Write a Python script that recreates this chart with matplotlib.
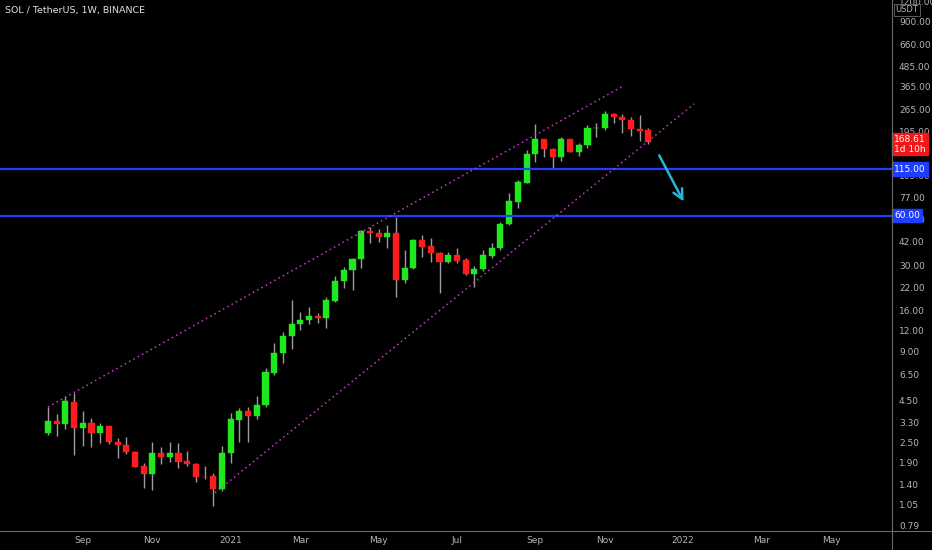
import numpy as np
import matplotlib
matplotlib.use('Agg')
import matplotlib.pyplot as plt
import matplotlib.dates as mdates
from matplotlib.lines import Line2D
from datetime import datetime, timedelta

# --- données (SOL/USDT hebdo) ---
debut = datetime(2020, 8, 10)
ouverture = [2.85, 3.39, 3.26, 4.40, 3.08, 3.26, 2.87, 3.16, 2.53, 2.41,
             2.20, 1.79, 1.61, 2.16, 2.04, 2.17, 1.94, 1.86, 1.55, 1.57,
             1.30, 2.17, 3.43, 3.86, 3.65, 4.24, 6.66, 8.73, 11.13, 13.15,
             13.91, 14.57, 14.25, 18.23, 24.0, 28.0, 32.5, 47.8, 46.8, 44.6,
             46.8, 24.3, 28.7, 42.2, 38.8, 35.4, 31.5, 34.5, 31.9, 26.5,
             28.4, 34.2, 37.9, 53.3, 72.8, 95.0, 141.9, 174.2, 151.5, 135.5,
             174.2, 146.5, 160.9, 203.2, 204.0, 248.2, 237.1, 228.3, 200.4, 196.6]
haut = [4.14, 3.72, 4.80, 5.00, 3.89, 3.55, 3.31, 3.18, 2.66, 2.70,
        2.22, 1.87, 2.51, 2.34, 2.51, 2.48, 2.24, 1.88, 1.80, 1.63,
        2.39, 3.80, 4.04, 4.14, 4.80, 7.08, 10.04, 11.81, 18.4, 15.56,
        16.62, 15.4, 19.27, 25.75, 29.3, 33.0, 49.0, 50.9, 49.5, 52.5,
        58.5, 37.0, 43.0, 45.7, 43.6, 35.8, 36.0, 37.9, 33.0, 29.7,
        37.0, 40.7, 55.0, 81.9, 98.6, 150.0, 216.0, 176.0, 155.0, 179.2,
        176.0, 166.2, 212.8, 219.8, 260.0, 252.0, 248.0, 237.0, 244.8, 203.0]
bas = [2.80, 2.76, 3.01, 2.10, 2.40, 2.36, 2.48, 2.44, 2.03, 2.13,
       1.77, 1.32, 1.29, 1.85, 1.90, 1.76, 1.80, 1.45, 1.50, 1.03,
       1.27, 1.87, 2.54, 2.54, 3.47, 4.10, 6.45, 7.59, 9.23, 12.09,
       13.2, 13.29, 12.39, 17.9, 21.7, 21.2, 28.7, 41.0, 41.5, 37.9,
       19.3, 23.5, 28.2, 33.7, 31.5, 20.2, 30.9, 30.8, 26.0, 22.2,
       27.5, 33.0, 37.0, 52.5, 66.4, 94.0, 127.4, 135.5, 116.2, 129.2,
       145.0, 138.0, 155.0, 179.2, 198.6, 217.9, 189.6, 182.4, 170.9, 163.2]
cloture = [3.39, 3.26, 4.44, 3.08, 3.26, 2.87, 3.16, 2.53, 2.41, 2.20,
           1.79, 1.61, 2.16, 2.04, 2.16, 1.92, 1.86, 1.55, 1.54, 1.30,
           2.17, 3.47, 3.86, 3.65, 4.24, 6.66, 8.73, 11.13, 13.15, 13.91,
           14.57, 14.25, 18.23, 24.0, 28.0, 32.5, 47.8, 46.8, 44.6, 46.8,
           24.3, 28.7, 42.2, 38.8, 35.4, 31.5, 34.5, 31.9, 26.5, 28.4,
           34.2, 37.9, 53.3, 72.8, 95.0, 141.9, 174.2, 151.5, 135.5, 174.2,
           146.5, 160.9, 203.2, 204.0, 248.2, 237.1, 228.3, 200.4, 196.6, 168.61]

niveaux = [115.0, 60.0]
# canal (semaine, prix)
canal_haut = [(0.0, 4.12), (66.1, 367.0)]
canal_bas = [(19.2, 1.24), (74.25, 286.0)]
fleche = [(70.1, 144.0), (73.2, 70.5)]

ticks_prix = [1200, 900, 660, 485, 365, 265, 195, 105, 77, 57, 42, 30, 22, 16,
              12, 9, 6.5, 4.5, 3.3, 2.5, 1.9, 1.4, 1.05, 0.79]
ticks_dates = [datetime(2020, 9, 7), datetime(2020, 11, 2), datetime(2021, 1, 4),
               datetime(2021, 3, 1), datetime(2021, 5, 3), datetime(2021, 7, 5),
               datetime(2021, 9, 6), datetime(2021, 11, 1), datetime(2022, 1, 3),
               datetime(2022, 3, 7), datetime(2022, 5, 2)]
ticks_noms = ['Sep', 'Nov', '2021', 'Mar', 'May', 'Jul', 'Sep', 'Nov', '2022', 'Mar', 'May']

VERT = '#1fe81f'
ROUGE = '#ff1c1c'
GRIS_TXT = '#b2b5be'
BLEU = '#1f3dff'


def semaine(w):
    return mdates.date2num(debut) + 7.0 * w


fig = plt.figure(figsize=(9.32, 5.5), dpi=100, facecolor='black')
ax = fig.add_axes([0, 19 / 550, 892 / 932, 531 / 550], facecolor='black')
ax.set_yscale('log')

x = np.array([semaine(i) for i in range(len(cloture))])
o = np.array(ouverture)
c = np.array(cloture)
h = np.array(haut)
l = np.array(bas)
couleurs = [VERT if cc >= oo else ROUGE for oo, cc in zip(o, c)]

ax.vlines(x, l, h, color='#9c9c9c', linewidth=1, zorder=2)
bas_corps = np.minimum(o, c)
haut_corps = np.maximum(o, c) * 1.004
ax.bar(x, haut_corps - bas_corps, bottom=bas_corps, width=4.9, color=couleurs,
       edgecolor=couleurs, linewidth=0.3, zorder=3)

# niveaux horizontaux
for niv in niveaux:
    ax.axhline(niv, color=BLEU, linewidth=1.6, zorder=4)

# canal en pointillés
for seg in (canal_haut, canal_bas):
    ax.plot([semaine(seg[0][0]), semaine(seg[1][0])], [seg[0][1], seg[1][1]],
            color='#cc3ccc', linewidth=1.1, linestyle=(0, (1, 2.2)), zorder=4)

# flèche
ax.annotate('', xy=(semaine(fleche[1][0]), fleche[1][1]),
            xytext=(semaine(fleche[0][0]), fleche[0][1]),
            arrowprops=dict(arrowstyle='->,head_length=0.7,head_width=0.35',
                            color='#27b4d6', linewidth=1.8), zorder=5)

ax.set_xlim(semaine(-38.6 / 7), semaine(679 / 7))
ax.set_ylim(0.727, 1223)

ax.yaxis.tick_right()
ax.set_yticks(ticks_prix)
ax.set_yticklabels([f'{t:.2f}' for t in ticks_prix])
ax.yaxis.set_minor_locator(matplotlib.ticker.NullLocator())
ax.tick_params(axis='y', length=0, pad=5, labelsize=6.5, labelcolor=GRIS_TXT)
ax.set_xticks([mdates.date2num(d) for d in ticks_dates])
ax.set_xticklabels(ticks_noms)
ax.tick_params(axis='x', length=0, pad=3.5, labelsize=6.5, labelcolor=GRIS_TXT)
for s in ax.spines.values():
    s.set_visible(False)

# étiquettes de prix à droite
for niv in niveaux:
    ax.text(1.0025, niv, f'{niv:.2f}', transform=ax.get_yaxis_transform(),
            ha='left', va='center', fontsize=6.5, color='white', zorder=10,
            clip_on=False, bbox=dict(boxstyle='square,pad=0.25', fc=BLEU, ec=BLEU))
ax.text(1.0025, 163.0, f'{cloture[-1]:.2f}\n1d 10h', transform=ax.get_yaxis_transform(),
        ha='left', va='center', fontsize=6.5, color='white', zorder=10, linespacing=1.15,
        clip_on=False, bbox=dict(boxstyle='square,pad=0.2', fc='#f21818', ec='#f21818'))

# séparateurs
fig.add_artist(Line2D([892 / 932, 892 / 932], [0, 1], color='#6a6a6a', linewidth=0.8))
fig.add_artist(Line2D([0, 1], [19 / 550, 19 / 550], color='#6a6a6a', linewidth=0.8))

fig.text(907 / 932, 1 - 10 / 550, 'USDT', ha='center', va='center', fontsize=6,
         color=GRIS_TXT, bbox=dict(boxstyle='square,pad=0.2', fc='black', ec='#6a6a6a', lw=0.6))
fig.text(5 / 932, 1 - 11 / 550, 'SOL / TetherUS, 1W, BINANCE', ha='left', va='center',
         fontsize=6.8, color='#e0e0e0')

fig.savefig('out.png', dpi=100, facecolor='black')
